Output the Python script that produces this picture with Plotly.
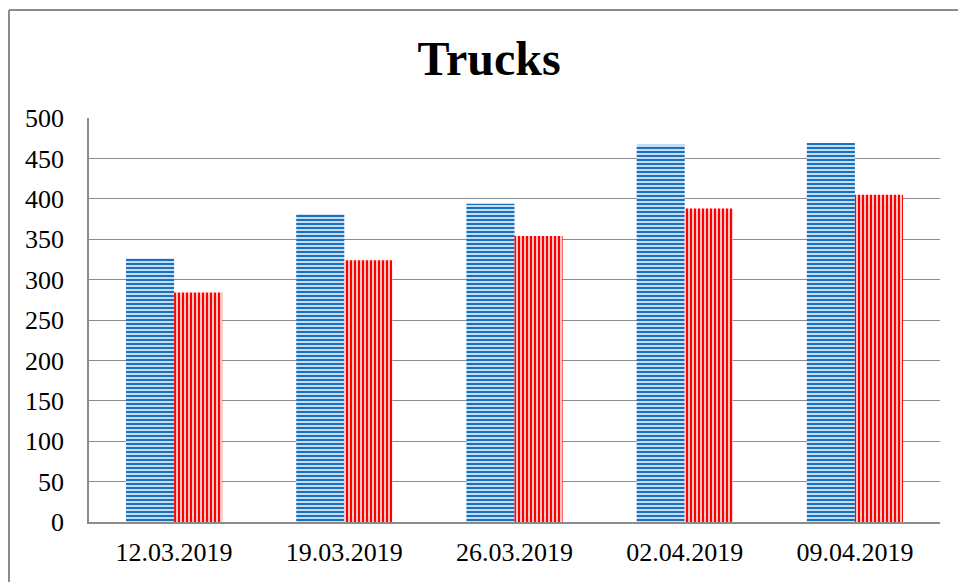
import plotly.graph_objects as go

categories = ["12.03.2019", "19.03.2019", "26.03.2019", "02.04.2019", "09.04.2019"]
series_a = [326, 381, 394, 467, 469]
series_b = [284, 324, 354, 388, 405]
y_ticks = [0, 50, 100, 150, 200, 250, 300, 350, 400, 450, 500]

W, H = 958, 582
L, R, T, B = 89, 18, 118, 60
pw, ph = W - L - R, H - T - B

fig = go.Figure()
fig.add_trace(go.Bar(
    x=categories, y=series_a, name="A",
    marker=dict(color="#c6dcf1", line=dict(width=0),
                pattern=dict(shape="-", fgcolor="#1a6fbf", bgcolor="#c6dcf1",
                             size=4, solidity=0.5, fillmode="replace")),
))
fig.add_trace(go.Bar(
    x=categories, y=series_b, name="B",
    marker=dict(color="#ffc4c4", line=dict(width=0),
                pattern=dict(shape="|", fgcolor="#ff0000", bgcolor="#ffc4c4",
                             size=4, solidity=0.5, fillmode="replace")),
))

font = "Liberation Serif, Times New Roman, serif"
bx0 = (9 - L) / pw
by0 = -(B + 30) / ph
by1 = 1 + (T - 10) / ph
fig.update_layout(
    width=W, height=H,
    margin=dict(l=L, r=R, t=T, b=B),
    paper_bgcolor="white", plot_bgcolor="white",
    barmode="group", bargap=0.435, bargroupgap=0,
    showlegend=False,
    font=dict(family=font, color="black", size=26),
    title=dict(text="<b>Trucks</b>", font=dict(family=font, size=48, color="black"),
               x=(489 - L) / pw, xref="paper", xanchor="center",
               y=1 - 58 / H, yref="container", yanchor="middle"),
    xaxis=dict(showgrid=False, showline=True, linecolor="#8c8c8c", linewidth=1.5,
               ticks="", tickfont=dict(size=26), ticklabelstandoff=6),
    yaxis=dict(range=[0, 500], tickvals=y_ticks, showgrid=True, gridcolor="#8c8c8c",
               gridwidth=1.2, showline=True, linecolor="#8c8c8c", linewidth=1.5,
               zeroline=False, ticks="", tickfont=dict(size=26), ticklabelstandoff=18),
    shapes=[
        dict(type="line", xref="paper", yref="paper", x0=bx0, x1=bx0, y0=by0, y1=by1,
             line=dict(color="#8c8c8c", width=2), layer="below"),
        dict(type="line", xref="paper", yref="paper", x0=bx0, x1=1.3, y0=by1, y1=by1,
             line=dict(color="#8c8c8c", width=2), layer="below"),
    ],
)

fig.write_html("out.html", config={"displayModeBar": False},
               post_script="document.body.style.margin='0px';document.body.style.overflow='hidden';")
